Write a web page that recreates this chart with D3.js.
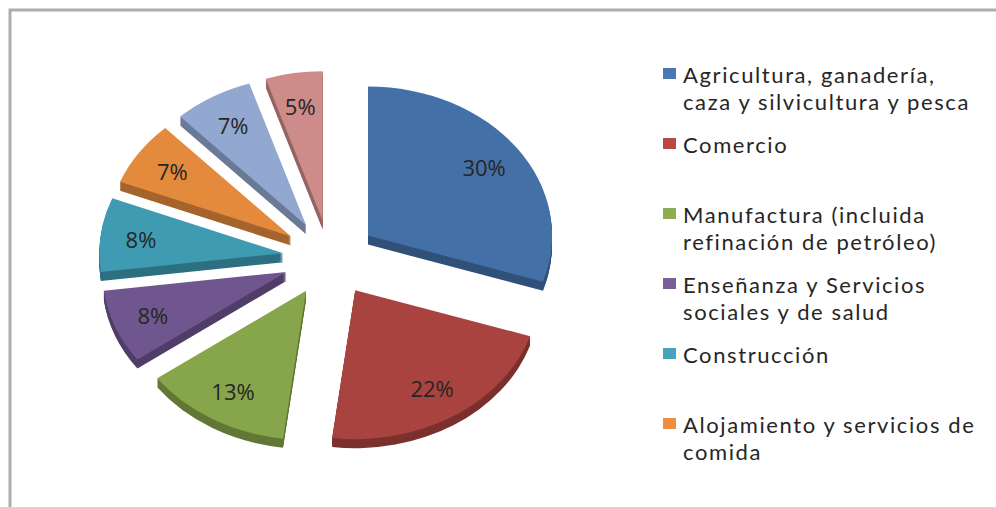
<!DOCTYPE html>
<html>
<head>
<meta charset="utf-8">
<script src="https://cdn.jsdelivr.net/npm/d3@7"></script>
<style>
  html, body { margin: 0; padding: 0; background: #fff; }
  svg { display: block; }
</style>
</head>
<body>
<svg id="chart" width="996" height="507"></svg>
<script>
// ---- data ----
const categories = [
  "Agricultura, ganadería, caza y silvicultura y pesca",
  "Comercio",
  "Manufactura (incluida refinación de petróleo)",
  "Enseñanza y Servicios sociales y de salud",
  "Construcción",
  "Alojamiento y servicios de comida",
  "Otros 1",
  "Otros 2"
];
const values = [30, 22, 13, 8, 8, 7, 7, 5];
const labels = ["30%", "22%", "13%", "8%", "8%", "7%", "7%", "5%"];
const colors = ["#4470A8", "#A9433F", "#87A54B", "#6F568F", "#3E9BB2", "#E38A3C", "#93A8D0", "#CD8B89"];
const legendColors = ["#4A78B2", "#B94844", "#8EAC52", "#7A5E9A", "#45A4BC", "#EE8F40"];
const legendLines = [
  ["Agricultura, ganadería,", "caza y silvicultura y pesca"],
  ["Comercio"],
  ["Manufactura (incluida", "refinación de petróleo)"],
  ["Enseñanza y Servicios", "sociales y de salud"],
  ["Construcción"],
  ["Alojamiento y servicios de", "comida"]
];

const svg = d3.select("#chart");

// frame
svg.append("path")
  .attr("d", "M10,507 L10,10 L996,10")
  .attr("fill", "none")
  .attr("stroke", "#adadad")
  .attr("stroke-width", 3);

// ---- pie ----
const cx = 330, cy = 258, R = 184, k = 0.81, explode = 47, depth = 9;
const pie = d3.pie().sort(null).value(d => d).startAngle(0).endAngle(2 * Math.PI);
const arcs = pie(values);
const arc = d3.arc().innerRadius(0).outerRadius(R);

const slices = arcs.map((a, i) => {
  const mid = (a.startAngle + a.endAngle) / 2;
  const ox = Math.sin(mid) * explode;
  const oy = -Math.cos(mid) * explode * k;
  return { a, i, mid, ox, oy };
});

// draw back to front by offset y
const order = slices.slice().sort((p, q) => p.oy - q.oy);
const g = svg.append("g");
order.forEach(s => {
  const base = d3.color(colors[s.i]);
  const side = base.darker(0.9);
  const sg = g.append("g");
  for (let t = depth; t >= 1; t--) {
    sg.append("path")
      .attr("d", arc(s.a))
      .attr("transform", `translate(${cx + s.ox},${cy + s.oy + t}) scale(1,${k})`)
      .attr("fill", side.toString());
  }
  sg.append("path")
    .attr("d", arc(s.a))
    .attr("transform", `translate(${cx + s.ox},${cy + s.oy}) scale(1,${k})`)
    .attr("fill", base.toString());
});

// labels
const lf = 0.78;
slices.forEach(s => {
  const lx = cx + s.ox + Math.sin(s.mid) * R * lf;
  const ly = cy + s.oy - Math.cos(s.mid) * R * k * lf;
  svg.append("text")
    .attr("x", lx).attr("y", ly)
    .attr("text-anchor", "middle")
    .attr("dominant-baseline", "central")
    .attr("font-family", "'Open Sans', sans-serif")
    .attr("font-size", 22)
    .attr("fill", "#262626")
    .text(labels[s.i]);
});

// ---- legend ----
const lg = svg.append("g");
legendLines.forEach((lines, i) => {
  const y0 = 74 + 70 * i;
  lg.append("rect")
    .attr("x", 663).attr("y", y0 - 6)
    .attr("width", 13).attr("height", 11)
    .attr("fill", legendColors[i]);
  lines.forEach((ln, j) => {
    lg.append("text")
      .attr("x", 683).attr("y", y0 + 27 * j)
      .attr("dominant-baseline", "central")
      .attr("font-family", "Lato, sans-serif")
      .attr("font-size", 22)
      .attr("letter-spacing", 1.6)
      .attr("fill", "#262626")
      .text(ln);
  });
});
</script>
</body>
</html>
